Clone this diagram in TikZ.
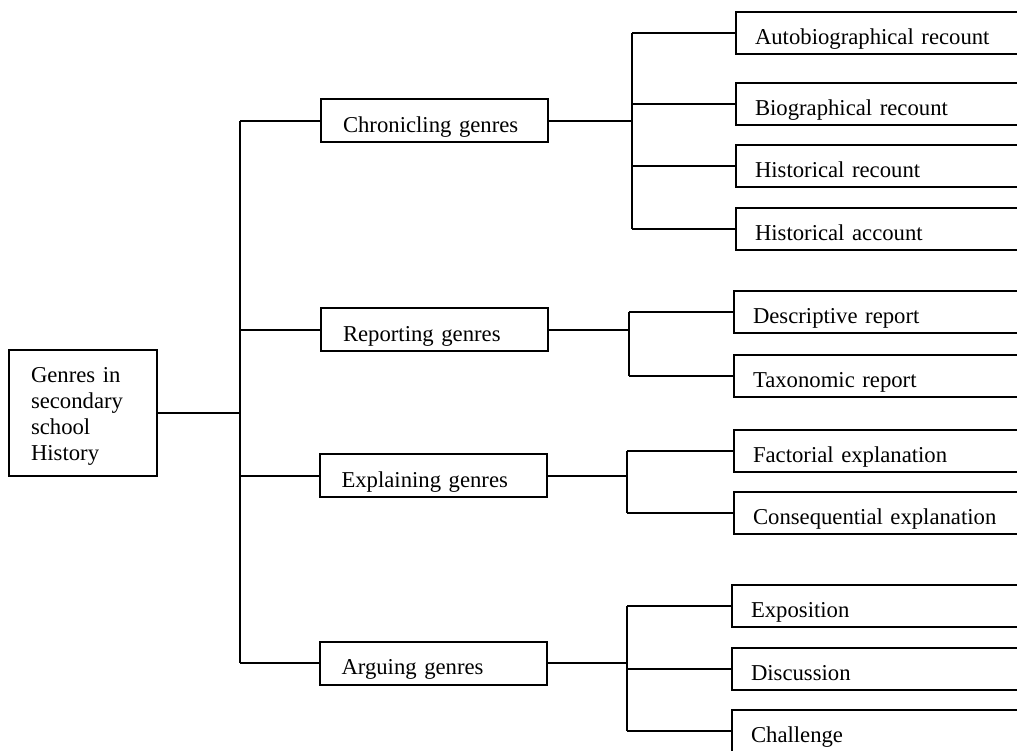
\documentclass[tikz,border=0pt]{standalone}
\usepackage{fontspec}
\setmainfont{Liberation Serif}
\begin{document}
\begin{tikzpicture}[x=1pt,y=-1pt,line width=2pt,
  box/.style={draw,line width=2pt,rectangle,inner ysep=0pt,font=\fontsize{22.7}{26}\selectfont},
  mid/.style={box,inner xsep=22pt,text width=183pt,minimum height=43pt,align=left,text height=23pt,text depth=0pt},
  leaf/.style={box,anchor=west,inner xsep=19pt,text width=280pt,minimum height=42pt,align=left,text height=23pt,text depth=0pt},
  root/.style={box,anchor=north west,inner xsep=22pt,text width=104pt,minimum height=126pt,align=left}]
\useasboundingbox (0,0) rectangle (1017,750);
\clip (0,0) rectangle (1017,750);
% root
\node[root] (root) at (8,349) {\rule{0pt}{21pt}Genres in\\secondary\\school\\History};
% mid level
\node[mid] (chr) at (434.5,120.5) {Chronicling genres};
\node[mid] (rep) at (434.5,329.5) {Reporting genres};
\node[mid] (exp) at (433,475.5) {Explaining genres};
\node[mid] (arg) at (433,663) {Arguing genres};
% leaves
\node[leaf] (a1) at (735,33) {Autobiographical recount};
\node[leaf] (a2) at (735,104) {Biographical recount};
\node[leaf] (a3) at (735,166) {Historical recount};
\node[leaf] (a4) at (735,228.5) {Historical account};
\node[leaf] (b1) at (733,312) {Descriptive report};
\node[leaf] (b2) at (733,375.5) {Taxonomic report};
\node[leaf] (c1) at (733,451) {Factorial explanation};
\node[leaf] (c2) at (733,513) {Consequential explanation};
\node[leaf] (d1) at (731,606) {Exposition};
\node[leaf] (d2) at (731,669) {Discussion};
\node[leaf] (d3) at (731,731) {Challenge};
% junction columns
\coordinate (tk) at (240,0);
\coordinate (ca) at (632,0);
\coordinate (cb) at (629,0);
\coordinate (cc) at (627,0);
\coordinate (cd) at (627,0);
% trunk
\draw (root.east) -- (root.east -| tk);
\draw (chr.west -| tk) -- (arg.west -| tk);
\foreach \m in {chr,rep,exp,arg} \draw (\m.west -| tk) -- (\m.west);
% chronicling
\draw (chr.east) -- (chr.east -| ca);
\draw (a1.west -| ca) -- (a4.west -| ca);
\foreach \l in {a1,a2,a3,a4} \draw (\l.west -| ca) -- (\l.west);
% reporting
\draw (rep.east) -- (rep.east -| cb);
\draw (b1.west -| cb) -- (b2.west -| cb);
\foreach \l in {b1,b2} \draw (\l.west -| cb) -- (\l.west);
% explaining
\draw (exp.east) -- (exp.east -| cc);
\draw (c1.west -| cc) -- (c2.west -| cc);
\foreach \l in {c1,c2} \draw (\l.west -| cc) -- (\l.west);
% arguing
\draw (arg.east) -- (arg.east -| cd);
\draw (d1.west -| cd) -- (d3.west -| cd);
\foreach \l in {d1,d2,d3} \draw (\l.west -| cd) -- (\l.west);
\end{tikzpicture}
\end{document}
